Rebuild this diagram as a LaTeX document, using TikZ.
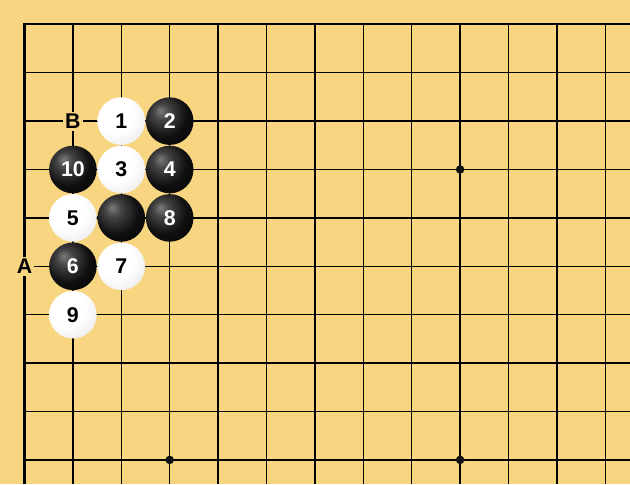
\documentclass[tikz,border=0pt]{standalone}
\usepackage{fontspec}
\setmainfont{Liberation Sans}
\definecolor{board}{HTML}{F8D580}
\definecolor{starpt}{HTML}{111111}
\pgfdeclareradialshading{blackstone}{\pgfpoint{-10bp}{11bp}}{%
  color(0bp)=(black!52); color(9bp)=(black!74); color(24bp)=(black!94);
  color(44bp)=(black); color(56bp)=(black!70); color(66bp)=(black!88)}
\pgfdeclareradialshading{whitestone}{\pgfpoint{-10bp}{11bp}}{%
  color(0bp)=(white); color(20bp)=(white); color(36bp)=(black!8);
  color(48bp)=(black!20); color(60bp)=(black!36); color(70bp)=(black!50)}

\begin{document}
\begin{tikzpicture}[
    x=36.3pt, y=-36.3pt,
    stone/.style={circle, minimum size=35.7pt, inner sep=0pt, shade,
      font=\fontsize{16}{17}\selectfont\bfseries},
    bstone/.style={stone, shading=blackstone, text=white},
    wstone/.style={stone, shading=whitestone, text=black},
    letter/.style={fill=board, inner sep=1.6pt, font=\fontsize{16}{17}\selectfont\bfseries},
    gridline/.style={line width=0.95pt, black},
    edgeline/.style={line width=1.6pt, black}
  ]
    \useasboundingbox[fill=board] (-0.506,-0.502) rectangle (12.51,9.498);

    % grid
    \foreach \i in {1,...,12}
      \draw[gridline] (\i,0) -- (\i,9.498);
    \foreach \j in {1,...,9}
      \draw[gridline] (0,\j) -- (12.51,\j);
    \draw[edgeline] (0,9.498) -- (0,0) -- (12.51,0);

    % hoshi
    \foreach \c/\r in {9/3, 3/9, 9/9}
      \fill[starpt] (\c,\r) circle (3.2pt);

    % stones
    \node[wstone] (m1) at (2,2) {1};
    \node[bstone] (m2) at (3,2) {2};
    \node[wstone] (m3) at (2,3) {3};
    \node[bstone] (m4) at (3,3) {4};
    \node[wstone] (m5) at (1,4) {5};
    \node[bstone] (m6) at (1,5) {6};
    \node[wstone] (m7) at (2,5) {7};
    \node[bstone] (m8) at (3,4) {8};
    \node[wstone] (m9) at (1,6) {9};
    \node[bstone] (m10) at (1,3) {10};
    \node[bstone] (old) at (2,4) {};

    % letters
    \node[letter] (ptA) at (0,5) {A};
    \node[letter] (ptB) at (1,2) {B};
  \end{tikzpicture}
\end{document}
